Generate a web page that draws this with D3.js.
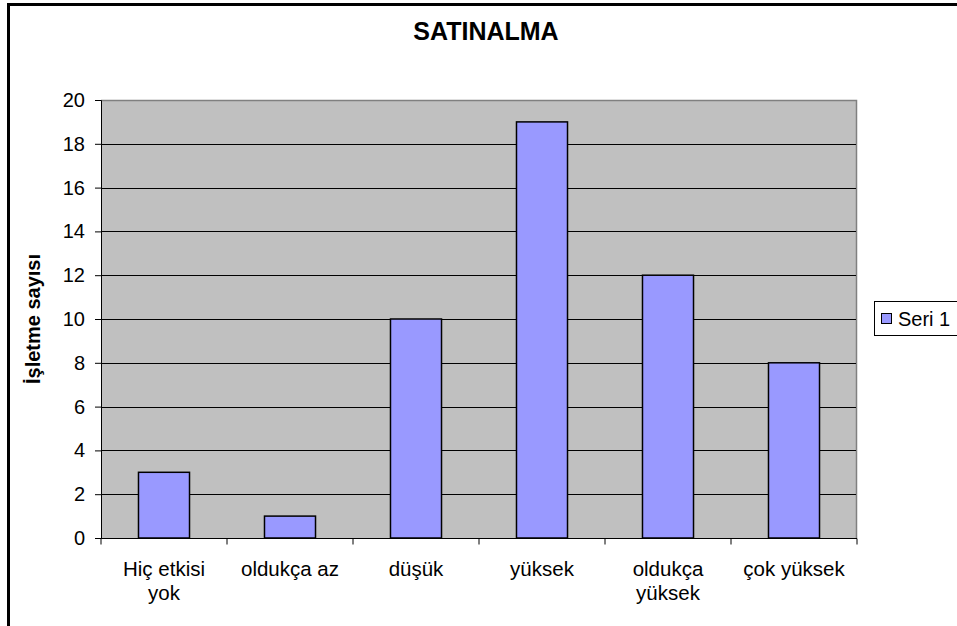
<!DOCTYPE html>
<html>
<head>
<meta charset="utf-8">
<script src="https://cdn.jsdelivr.net/npm/d3@7"></script>
<style>
  body { margin: 0; background: white; }
  text { font-family: "Liberation Sans", Arial, sans-serif; }
</style>
</head>
<body>
<div id="chart"></div>
<script>
const categories = [["Hiç etkisi", "yok"], ["oldukça az"], ["düşük"], ["yüksek"], ["oldukça", "yüksek"], ["çok yüksek"]];
const values = [3, 1, 10, 19, 12, 8];
const yTicks = [0, 2, 4, 6, 8, 10, 12, 14, 16, 18, 20];
const seriesName = "Seri 1";
const title = "SATINALMA";
const yTitle = "İşletme sayısı";

const W = 957, H = 626;
const plotLeft = 101, plotRight = 857, plotTop = 100, plotBottom = 538;

const svg = d3.select("#chart").append("svg").attr("width", W).attr("height", H);

// outer frame, runs off the right and bottom edge
svg.append("rect").attr("x", 8.5).attr("y", 4.5).attr("width", W + 20).attr("height", H + 20)
  .attr("fill", "white").attr("stroke", "black").attr("stroke-width", 3);

const x = d3.scaleBand().domain(d3.range(categories.length)).range([plotLeft, plotRight]);
const y = d3.scaleLinear().domain([0, 20]).range([plotBottom, plotTop]);

// plot area
svg.append("rect").attr("x", plotLeft).attr("y", plotTop).attr("width", plotRight - plotLeft).attr("height", plotBottom - plotTop)
  .attr("fill", "#c0c0c0");
svg.append("path").attr("d", `M${plotLeft},${plotTop + 0.5}H${plotRight - 0.5}V${plotBottom}`)
  .attr("fill", "none").attr("stroke", "#808080").attr("stroke-width", 1.5);

// gridlines
svg.append("g").selectAll("line").data(yTicks.filter(d => d > 0 && d < 20)).enter().append("line")
  .attr("x1", plotLeft).attr("x2", plotRight - 1)
  .attr("y1", d => Math.round(y(d)) + 0.5).attr("y2", d => Math.round(y(d)) + 0.5)
  .attr("stroke", "black");

// bars
const bw = x.bandwidth() * 0.405;
svg.append("g").selectAll("rect").data(values).enter().append("rect")
  .attr("x", (d, i) => x(i) + x.bandwidth() / 2 - bw / 2)
  .attr("y", d => y(d))
  .attr("width", bw)
  .attr("height", d => plotBottom - y(d))
  .attr("fill", "#9999ff").attr("stroke", "black").attr("stroke-width", 1.5);

// y axis
const yAxis = d3.axisLeft(y).tickValues(yTicks).tickSize(6).tickPadding(10);
const gy = svg.append("g").attr("transform", `translate(${plotLeft},0)`).call(yAxis);
gy.selectAll("text").attr("font-size", 20).attr("fill", "black").style("font-family", "Liberation Sans, Arial, sans-serif");
gy.select(".domain").attr("stroke", "black");

// x axis
const gx = svg.append("g").attr("transform", `translate(0,${plotBottom + 0.5})`);
gx.append("line").attr("x1", plotLeft - 6).attr("x2", plotRight).attr("stroke", "black");
gx.selectAll("line.tk").data(d3.range(categories.length + 1)).enter().append("line").attr("class", "tk")
  .attr("x1", i => i < categories.length ? x(i) : plotRight).attr("x2", i => i < categories.length ? x(i) : plotRight)
  .attr("y1", 0).attr("y2", 6).attr("stroke", "black");
gx.selectAll("text").data(categories).enter().append("text")
  .attr("text-anchor", "middle").attr("font-size", 20.5)
  .each(function (d, i) {
    const t = d3.select(this);
    d.forEach((line, j) => {
      t.append("tspan").attr("x", x(i) + x.bandwidth() / 2).attr("y", 37 + j * 24).text(line);
    });
  });

// title
svg.append("text").attr("x", 486).attr("y", 40).attr("text-anchor", "middle")
  .attr("font-size", 25).attr("font-weight", "bold").text(title);

// y title
svg.append("text").attr("transform", `translate(40,${(plotTop + plotBottom) / 2}) rotate(-90)`)
  .attr("text-anchor", "middle").attr("font-size", 20).attr("font-weight", "bold").text(yTitle);

// legend
const lg = svg.append("g").attr("transform", "translate(874,301)");
lg.append("rect").attr("x", 0.5).attr("y", 0.5).attr("width", 100).attr("height", 34)
  .attr("fill", "white").attr("stroke", "black");
lg.append("rect").attr("x", 7.5).attr("y", 12.5).attr("width", 10).attr("height", 10)
  .attr("fill", "#9999ff").attr("stroke", "black");
lg.append("text").attr("x", 24).attr("y", 25).attr("font-size", 20).text(seriesName);
</script>
</body>
</html>
